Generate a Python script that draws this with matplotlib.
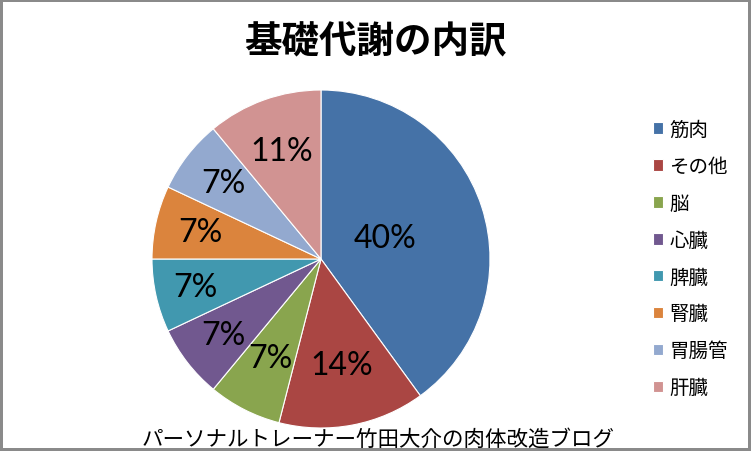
import matplotlib
matplotlib.use("Agg")
import numpy as np
import matplotlib.pyplot as plt

plt.rcParams['font.family'] = ['Noto Sans CJK JP', 'DejaVu Sans']

# 基礎代謝の内訳 (%)
labels = ['筋肉', 'その他', '脳', '心臓', '脾臓', '腎臓', '胃腸管', '肝臓']
values = [40, 14, 7, 7, 7, 7, 7, 11]
colors = ['#4572A7', '#AA4643', '#89A54E', '#71588F',
          '#4198AF', '#DB843D', '#93A9CF', '#D19392']
# where each % label sits, as a fraction of the radius
pct_dist = [0.40, 0.64, 0.66, 0.73, 0.76, 0.73, 0.73, 0.68]

W, H = 751, 452
fig = plt.figure(figsize=(W / 100, H / 100), dpi=100,
                 linewidth=3, edgecolor='#8a8a8a')

cx, cy, r = 321, 260, 169
ax = fig.add_axes([(cx - r) / W, (H - cy - r) / H, 2 * r / W, 2 * r / H])

wedges, _, autotexts = ax.pie(values, colors=colors, startangle=90,
                              counterclock=False, autopct='%d%%',
                              wedgeprops=dict(linewidth=0.8, edgecolor='white'),
                              textprops=dict(fontsize=23, family='Lato',
                                             color='black'))
for w, t, d in zip(wedges, autotexts, pct_dist):
    ang = np.deg2rad((w.theta1 + w.theta2) / 2)
    t.set_position((d * np.cos(ang), d * np.sin(ang)))
ax.set_xlim(-1, 1)
ax.set_ylim(-1, 1)
ax.set_aspect('equal')

fig.text(0.5, 1 - 42 / H, '基礎代謝の内訳', ha='center', va='center',
         fontsize=27, fontweight='bold')

fig.text(378 / W, 1 - 440 / H, 'パーソナルトレーナー竹田大介の肉体改造ブログ',
         ha='center', va='center', fontsize=15.5)

fig.legend(wedges, labels, loc='upper left',
           bbox_to_anchor=(643 / W, 1 - 110 / H), frameon=False,
           fontsize=14, handlelength=0.55, handleheight=0.55,
           handletextpad=0.3, labelspacing=0.82, borderpad=0)

fig.savefig('out.png', dpi=100, edgecolor=fig.get_edgecolor())
